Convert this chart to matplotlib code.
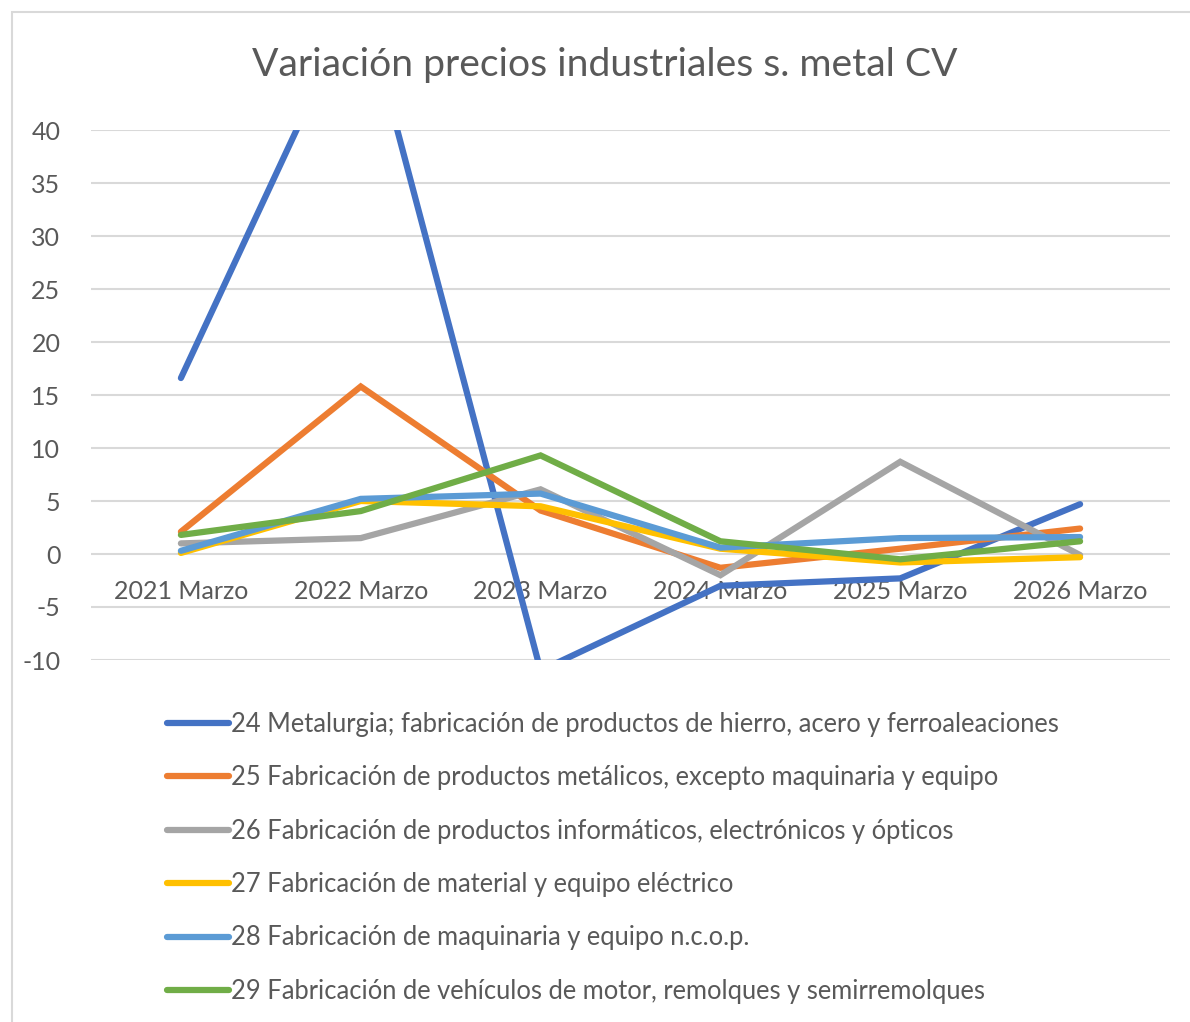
import matplotlib.pyplot as plt
from matplotlib.patches import Rectangle

categories = ['2021 Marzo', '2022 Marzo', '2023 Marzo', '2024 Marzo', '2025 Marzo', '2026 Marzo']

s24 = [16.6, 53.0, -11.0, -3.0, -2.3, 4.7]
s25 = [2.1, 15.8, 4.1, -1.3, 0.5, 2.4]
s26 = [1.0, 1.5, 6.1, -2.0, 8.7, -0.1]
s27 = [0.1, 5.0, 4.5, 0.5, -0.8, -0.3]
s28 = [0.3, 5.2, 5.7, 0.6, 1.5, 1.6]
s29 = [1.8, 4.05, 9.3, 1.2, -0.5, 1.2]

labels = [
    '24 Metalurgia; fabricación de productos de hierro, acero y ferroaleaciones',
    '25 Fabricación de productos metálicos, excepto maquinaria y equipo',
    '26 Fabricación de productos informáticos, electrónicos y ópticos',
    '27 Fabricación de material y equipo eléctrico',
    '28 Fabricación de maquinaria y equipo n.c.o.p.',
    '29 Fabricación de vehículos de motor, remolques y semirremolques',
]
colors = ['#4472C4', '#ED7D31', '#A5A5A5', '#FFC000', '#5B9BD5', '#70AD47']

plt.rcParams['font.family'] = ['Lato', 'DejaVu Sans']
plt.rcParams['axes.unicode_minus'] = False
TXT = '#595959'

fig = plt.figure(figsize=(11.9, 10.22), dpi=100)
fig.patches.append(Rectangle((12 / 1190, -0.1), 1.2, (1022 - 12) / 1022 + 0.1,
                             transform=fig.transFigure, fill=False,
                             edgecolor='#D9D9D9', linewidth=1.5))

ax = fig.add_axes([91 / 1190, 1 - 660 / 1022, (1170 - 91) / 1190, (660 - 130) / 1022])
x = list(range(len(categories)))
for vals, lab, col in zip([s24, s25, s26, s27, s28, s29], labels, colors):
    ax.plot(x, vals, color=col, lw=4.5, solid_capstyle='round', solid_joinstyle='miter',
            label=lab, zorder=3)

ax.set_xlim(-0.5, len(categories) - 0.5)
ax.set_ylim(-10, 40)
ax.set_yticks(range(-10, 41, 5))
ax.grid(axis='y', color='#D9D9D9', lw=1.5, zorder=0)
ax.set_xticks([])
ax.tick_params(axis='y', length=0, pad=22, labelsize=18, labelcolor=TXT)
for sp in ax.spines.values():
    sp.set_visible(False)

for i, c in enumerate(categories):
    ax.annotate(c, (i, 0), xytext=(0, -27), textcoords='offset points',
                ha='center', va='center', fontsize=18, color=TXT, zorder=2)

fig.text(605 / 1190, 1 - 65 / 1022, 'Variación precios industriales s. metal CV',
         ha='center', va='center', fontsize=28.2, color=TXT)

leg = ax.legend(loc='upper left', bbox_to_anchor=(167 / 1190, 1 - 712 / 1022),
                bbox_transform=fig.transFigure, frameon=False, fontsize=18.4,
                labelcolor=TXT, handlelength=2.42, handletextpad=0.1,
                labelspacing=1.11, borderpad=0, borderaxespad=0)

fig.savefig('out.png', dpi=100)
